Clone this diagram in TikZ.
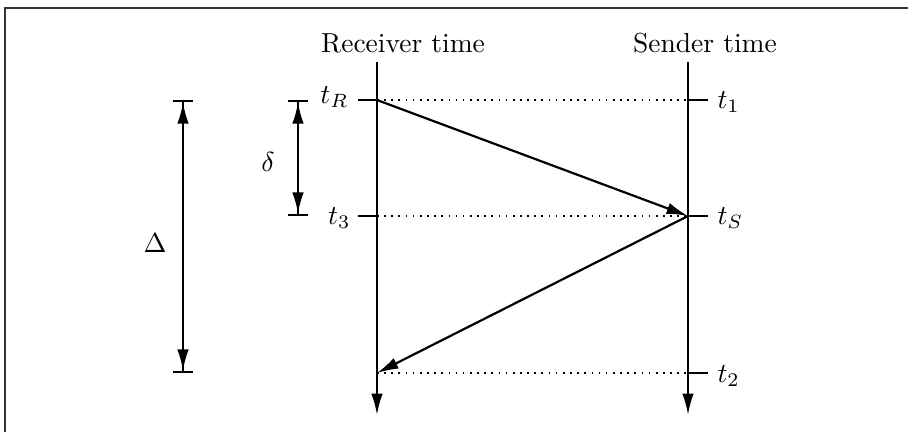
\documentclass[tikz,border=0pt]{standalone}
\usetikzlibrary{arrows.meta}
\begin{document}
\begin{tikzpicture}[x=0.3636pt,y=-0.3636pt,
  tip/.style={},
  axis/.style={line width=0.8pt,-{Latex[length=7.8pt,width=4.2pt]}},
  tickline/.style={line width=0.8pt},
  guide/.style={dotted,line width=0.6pt},
  msg/.style={line width=0.8pt,-{Latex[length=7.8pt,width=4.2pt]}},
  span/.style={line width=0.8pt,{Bar[width=7.5pt]Latex[length=7.8pt,width=4.2pt]}-{Latex[length=7.8pt,width=4.2pt]Bar[width=7.5pt]}},
  lbl/.style={inner sep=0pt}]
\useasboundingbox (0,0) rectangle (908,431);
% frame
\draw[line width=0.8pt,black!80] (5,432) -- (5,8) -- (909,8);
% axes
\coordinate (rtop) at (377,62);
\coordinate (rbot) at (377,415);
\coordinate (stop) at (688,62);
\coordinate (sbot) at (688,415);
\draw[axis] (rtop) -- (rbot);
\draw[axis] (stop) -- (sbot);
\node[lbl] (rt) at (403,43) {Receiver time};
\node[lbl] (st) at (705,43) {Sender time};
% events
\coordinate (R1) at (377,100);
\coordinate (R3) at (377,216);
\coordinate (R2) at (377,373);
\coordinate (S1) at (688,100);
\coordinate (SS) at (688,216);
\coordinate (S2) at (688,373);
% ticks
\coordinate (R1t) at (358,100);
\coordinate (R3t) at (358,216);
\coordinate (S1t) at (708,100);
\coordinate (SSt) at (708,216);
\coordinate (S2t) at (708,373);
\draw[tickline] (R1t) -- (R1);
\draw[tickline] (R3t) -- (R3);
\draw[tickline] (S1) -- (S1t);
\draw[tickline] (SS) -- (SSt);
\draw[tickline] (S2) -- (S2t);
% guides
\draw[guide] (R1) -- (S1);
\draw[guide] (R3) -- (SS);
\draw[guide] (R2) -- (S2);
% messages
\draw[msg] (R1) -- (SS);
\draw[msg] (SS) -- (R2);
% labels
\node[lbl,anchor=east] (ltR) at (349,97) {$t_R$};
\node[lbl,anchor=east] (lt3) at (351,218) {$t_3$};
\node[lbl,anchor=west] (lt1) at (717,102) {$t_1$};
\node[lbl,anchor=west] (ltS) at (717,218) {$t_S$};
\node[lbl,anchor=west] (lt2) at (717,376) {$t_2$};
% spans
\coordinate (Dtop) at (183,100);
\coordinate (Dbot) at (183,373);
\coordinate (dtop) at (298,100);
\coordinate (dbot) at (298,216);
\draw[span] (Dtop) -- (Dbot);
\draw[span] (dtop) -- (dbot);
\node[lbl] (lD) at (155,243) {$\Delta$};
\node[lbl] (ld) at (268,162) {$\delta$};
\end{tikzpicture}
\end{document}
